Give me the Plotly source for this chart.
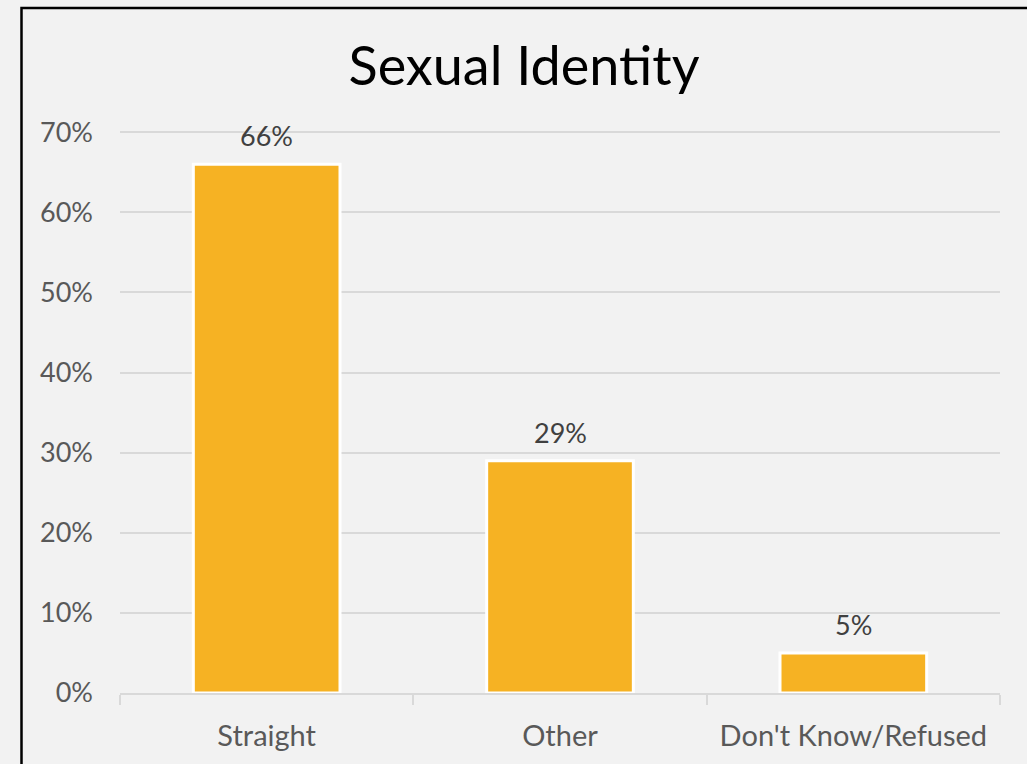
import plotly.graph_objects as go

categories = ["Straight", "Other", "Don't Know/Refused"]
values = [66, 29, 5]
tick_vals = [0, 10, 20, 30, 40, 50, 60, 70]
tick_text = ["0%", "10%", "20%", "30%", "40%", "50%", "60%", "70%"]
title_text = "Sexual Identity"

BAR = "#F6B223"
BG = "#F2F2F2"
GRID = "#D9D9D9"
FONT = "Lato"

fig = go.Figure()
fig.add_trace(go.Bar(
    x=categories, y=values,
    marker=dict(color=BAR, line=dict(color="white", width=3)),
    hoverinfo="skip",
))

for c, v in zip(categories, values):
    fig.add_annotation(
        x=c, y=v, text=f"{v}%", showarrow=False,
        xref="x", yref="y", yanchor="bottom", yshift=10,
        font=dict(family=FONT, size=27, color="#404040"),
    )

W, H = 1027, 764
L, R, T, B = 120, 27, 131, 71
pw, ph = W - L - R, H - T - B

def px_to_paper_x(px):
    return (px - L) / pw

def px_to_paper_y(py):
    return (H - B - py) / ph

fig.add_shape(
    type="rect", xref="paper", yref="paper",
    x0=px_to_paper_x(21.5), x1=px_to_paper_x(1045),
    y0=px_to_paper_y(790), y1=px_to_paper_y(8),
    line=dict(color="black", width=2.5), fillcolor="rgba(0,0,0,0)",
    layer="above",
)

fig.update_layout(
    width=W, height=H,
    margin=dict(l=L, r=R, t=T, b=B, pad=0),
    paper_bgcolor=BG, plot_bgcolor=BG,
    bargap=0.5,
    showlegend=False,
    title=dict(
        text=title_text, x=524 / W, xanchor="center",
        y=1 - 66 / H, yanchor="middle", yref="container",
        font=dict(family=FONT, size=54, color="black"),
    ),
    font=dict(family=FONT),
)
fig.update_xaxes(
    showline=True, linecolor=GRID, linewidth=2,
    ticks="outside", tickson="boundaries", ticklen=10, tickcolor=GRID, tickwidth=2,
    ticklabelstandoff=16,
    tickfont=dict(family=FONT, size=29, color="#595959"),
    showgrid=False,
)
fig.update_yaxes(
    range=[0, 70.15], tickvals=tick_vals, ticktext=tick_text,
    showgrid=True, gridcolor=GRID, gridwidth=1.5,
    zeroline=False, showline=False, ticks="",
    ticklabelstandoff=26,
    tickfont=dict(family=FONT, size=27, color="#595959"),
)

fig.write_html("out.html")
